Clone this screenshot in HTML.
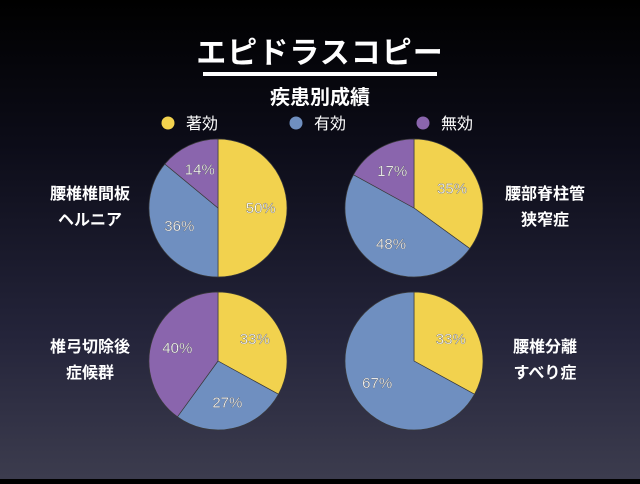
<!DOCTYPE html>
<html><head><meta charset="utf-8"><style>
html,body{margin:0;padding:0}
body{width:640px;height:479px;overflow:hidden;background:linear-gradient(#000 0%,#0c0c18 30%,#24243a 70%,#3c3c4e 100%);font-family:"Liberation Sans","Noto Sans CJK JP",sans-serif}
</style></head><body>
<svg id="chart" width="640" height="479" xmlns="http://www.w3.org/2000/svg" font-family="Liberation Sans, Noto Sans CJK JP, sans-serif">
<text x="320" y="63" fill="#fff" font-size="30" font-weight="bold" text-anchor="middle" letter-spacing="1">エピドラスコピー</text>
<rect x="203" y="72" width="234" height="4" fill="#fff"/>
<text x="320" y="104" fill="#fff" font-size="20" font-weight="bold" text-anchor="middle">疾患別成績</text>
<g id="legend"></g>
<g id="pies"></g>
</svg>
<script>
const categories=["著効","有効","無効"];
const colors=["#f2d24e","#6f8fc0","#8a65ad"];
const groupNames=[["腰椎椎間板","ヘルニア"],["腰部脊柱管","狭窄症"],["椎弓切除後","症候群"],["腰椎分離","すべり症"]];
const values0=[50,36,14];
const values1=[35,48,17];
const values2=[33,27,40];
const values3=[33,67,0];
const allValues=[values0,values1,values2,values3];
const NS="http://www.w3.org/2000/svg";
const leg=document.getElementById('legend');
const legX=[168,296,423];
categories.forEach((c,i)=>{
  const ci=document.createElementNS(NS,'circle');
  
  
  ci.setAttribute('cx',legX[i]);ci.setAttribute('cy',123);ci.setAttribute('r',6.5);ci.setAttribute('fill',colors[i]);
  leg.appendChild(ci);
  const t=document.createElementNS(NS,'text');
  
  
  t.setAttribute('x',legX[i]+18);t.setAttribute('y',129);t.setAttribute('fill','#fff');t.setAttribute('font-size','16');
  t.textContent=c;leg.appendChild(t);
});
const centers=[[218,208],[414,208],[218,361],[414,361]];
const labelX=[90,545,90,545];
const R=69;
const pies=document.getElementById('pies');
function pt(cx,cy,r,a){return [cx+r*Math.sin(a),cy-r*Math.cos(a)];}
allValues.forEach((vals,gi)=>{
  const [cx,cy]=centers[gi];
  const g=document.createElementNS(NS,'g');
  
  
  pies.appendChild(g);
  const total=vals.reduce((a,b)=>a+b,0);
  let a0=0;
  vals.forEach((v,i)=>{
    if(v<=0)return;
    const a1=a0+v/total*2*Math.PI;
    let el;
    if(v>=total){el=document.createElementNS(NS,'circle');el.setAttribute('cx',cx);el.setAttribute('cy',cy);el.setAttribute('r',R);}
    else{
      const p0=pt(cx,cy,R,a0),p1=pt(cx,cy,R,a1);
      el=document.createElementNS(NS,'path');
      el.setAttribute('d',`M${cx},${cy}L${p0[0]},${p0[1]}A${R},${R} 0 ${a1-a0>Math.PI?1:0} 1 ${p1[0]},${p1[1]}Z`);
    }
    
    
    el.setAttribute('fill',colors[i]);el.setAttribute('stroke','#3a3a3a');el.setAttribute('stroke-width','0.7');
    g.appendChild(el);
    const lp=pt(cx,cy,R*0.62,(a0+a1)/2);
    const t=document.createElementNS(NS,'text');
    
    
    t.setAttribute('x',lp[0]);t.setAttribute('y',lp[1]+5);t.setAttribute('fill','#fff');t.setAttribute('font-size','15');t.setAttribute('text-anchor','middle');
    t.setAttribute('stroke','#555');t.setAttribute('stroke-width','0.3');
    t.textContent=v+'%';g.appendChild(t);
    a0=a1;
  });
  groupNames[gi].forEach((n,li)=>{
    const t=document.createElementNS(NS,'text');
    
    
    t.setAttribute('x',labelX[gi]);t.setAttribute('y',cy-9+li*26);t.setAttribute('fill','#fff');t.setAttribute('font-size','16');t.setAttribute('font-weight','bold');t.setAttribute('text-anchor','middle');
    t.textContent=n;g.appendChild(t);
  });
});
</script>
</body></html>
